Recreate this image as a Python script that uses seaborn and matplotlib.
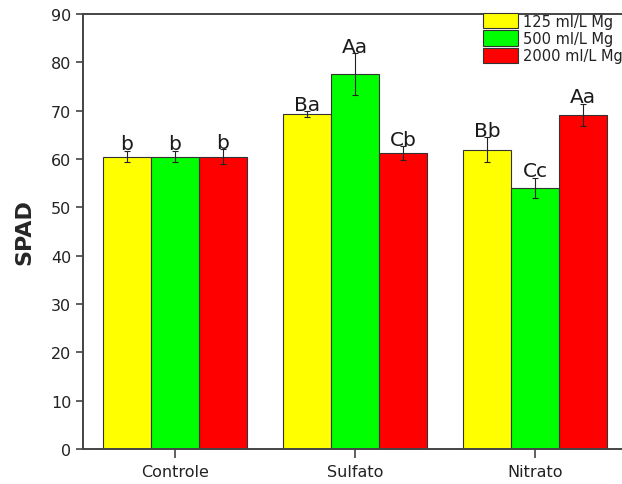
import matplotlib
matplotlib.use("Agg")
import matplotlib.pyplot as plt
import seaborn as sns
import pandas as pd

# Data: SPAD readings per source of Mg and dose
groups = ["Controle", "Sulfato", "Nitrato"]
doses = ["125 ml/L Mg", "500 ml/L Mg", "2000 ml/L Mg"]
spad_125 = [60.5, 69.3, 61.9]
spad_500 = [60.5, 77.6, 54.0]
spad_2000 = [60.5, 61.2, 69.1]
err_125 = [1.2, 0.6, 2.6]
err_500 = [1.2, 4.3, 2.1]
err_2000 = [1.5, 1.4, 2.3]
letters_125 = ["b", "Ba", "Bb"]
letters_500 = ["b", "Aa", "Cc"]
letters_2000 = ["b", "Cb", "Aa"]
yticks = [0, 10, 20, 30, 40, 50, 60, 70, 80, 90]

values = [spad_125, spad_500, spad_2000]
errors = [err_125, err_500, err_2000]
letters = [letters_125, letters_500, letters_2000]

df = pd.DataFrame({
    "grupo": [g for _ in doses for g in groups],
    "dose": [d for d in doses for _ in groups],
    "SPAD": [v for row in values for v in row],
})

sns.set_style("ticks")
plt.rcParams["font.family"] = ["DejaVu Sans"]

fig = plt.figure(figsize=(6.22, 4.85), dpi=100)
ax = fig.add_axes([83 / 622, 35 / 485, 1 - 83 / 622, 435 / 485])

palette = {"125 ml/L Mg": "#FFFF00", "500 ml/L Mg": "#00FF00", "2000 ml/L Mg": "#FF0000"}
sns.barplot(data=df, x="grupo", y="SPAD", hue="dose", order=groups, hue_order=doses,
            palette=palette, errorbar=None, width=0.8, gap=0,
            edgecolor="#333333", linewidth=0.8, saturation=1, ax=ax)

# Error bars and significance letters placed on each bar
for cont, errs, labs in zip(ax.containers, errors, letters):
    xs = [p.get_x() + p.get_width() / 2 for p in cont.patches]
    hs = [p.get_height() for p in cont.patches]
    ax.errorbar(xs, hs, yerr=errs, fmt="none", ecolor="#222222",
                elinewidth=0.8, capsize=2.2, capthick=0.8, zorder=5)
    for x, h, e, t in zip(xs, hs, errs, labs):
        ax.text(x, h + e + 0.3, t, ha="center", va="baseline",
                fontsize=14.5, color="#1a1a1a", zorder=6)

ax.set_xlim(-0.511, 2.483)
ax.set_ylim(0, 90)
ax.set_yticks(yticks)
ax.set_xlabel("")
ax.set_ylabel("SPAD", fontsize=16, fontweight="bold", labelpad=12)

for side in ["left", "bottom", "top"]:
    ax.spines[side].set_visible(True)
    ax.spines[side].set_color("#444444")
    ax.spines[side].set_linewidth(1.4)
ax.spines["right"].set_visible(False)

ax.tick_params(axis="y", direction="out", length=5, width=1.2, color="#444444",
               labelsize=11.5, labelcolor="#222222", pad=3.5)
ax.tick_params(axis="x", direction="out", length=6.5, width=1.2, color="#444444",
               labelsize=11.5, labelcolor="#222222", pad=4)

handles, labels = ax.get_legend_handles_labels()
ax.legend(handles, labels, loc="upper left",
          bbox_to_anchor=(483 / 622, (485 - 14) / 485), bbox_transform=fig.transFigure,
          frameon=False, fontsize=10.5, handlelength=2.4, handleheight=1.25,
          handletextpad=0.35, labelspacing=0.12, borderpad=0, borderaxespad=0,
          labelcolor="#222222")

fig.savefig("out.png", dpi=100)
